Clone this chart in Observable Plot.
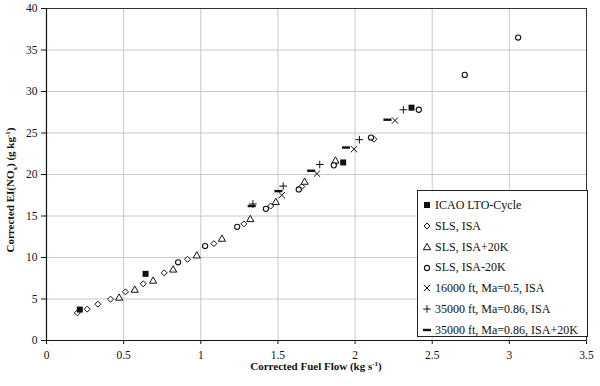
<!DOCTYPE html>
<html>
<head>
<meta charset="utf-8">
<script src="https://cdn.jsdelivr.net/npm/d3@7"></script>
<script src="https://cdn.jsdelivr.net/npm/@observablehq/plot@0.6"></script>
<style>
  html, body { margin: 0; padding: 0; background: #fff; }
  #wrap { position: relative; width: 600px; height: 386px; font-family: "Liberation Serif", serif; }
  #wrap svg text { font-family: "Liberation Serif", serif !important; }
  #legend { position: absolute; left: 417px; top: 190px; width: 171px; height: 147px; border: 1px solid #222; background: #fff; box-sizing: border-box; font-family: "Liberation Serif", serif; font-size: 12px; color: #111; }
  #legend .row { position: absolute; left: 4px; height: 14px; line-height: 14px; white-space: nowrap; }
  #legend svg { vertical-align: middle; margin-right: 3px; position: relative; top: -1px; }
</style>
</head>
<body>
<div id="wrap"></div>
<script>
// ---- data ----
const icaoX = [0.216, 0.642, 1.923, 2.366];
const icaoY = [3.73, 8.03, 21.45, 28.05];

const slsIsaX = [0.200, 0.264, 0.333, 0.415, 0.512, 0.627, 0.763, 0.914, 1.085, 1.279, 1.453, 1.655, 1.866, 2.122];
const slsIsaY = [3.33, 3.78, 4.37, 4.98, 5.86, 6.83, 8.15, 9.78, 11.67, 14.05, 16.2, 18.55, 21.3, 24.25];

const slsHotX = [0.471, 0.572, 0.691, 0.821, 0.974, 1.137, 1.321, 1.486, 1.673, 1.873];
const slsHotY = [5.18, 6.14, 7.23, 8.57, 10.27, 12.28, 14.65, 16.7, 19.15, 21.7];

const slsColdX = [0.853, 1.028, 1.236, 1.422, 1.635, 1.862, 2.103, 2.413, 2.711, 3.057];
const slsColdY = [9.42, 11.38, 13.69, 15.86, 18.2, 21.1, 24.45, 27.8, 32.0, 36.5];

const alt16X = [1.525, 1.753, 1.993, 2.259];
const alt16Y = [17.5, 20.1, 23.05, 26.5];

const alt35X = [1.338, 1.534, 1.771, 2.028, 2.313];
const alt35Y = [16.45, 18.6, 21.2, 24.2, 27.8];

const alt35hX = [1.330, 1.503, 1.715, 1.941, 2.210];
const alt35hY = [16.2, 18.0, 20.45, 23.25, 26.6];

const seriesNames = ["ICAO LTO-Cycle", "SLS, ISA", "SLS, ISA+20K", "SLS, ISA-20K",
  "16000 ft, Ma=0.5, ISA", "35000 ft, Ma=0.86, ISA", "35000 ft, Ma=0.86, ISA+20K"];

const xTicks = [0, 0.5, 1, 1.5, 2, 2.5, 3, 3.5];
const yTicks = [0, 5, 10, 15, 20, 25, 30, 35, 40];

// ---- symbols ----
const dashSymbol = { draw(ctx, size) { const w = 4, h = 1.2; ctx.moveTo(-w, -h); ctx.lineTo(w, -h); ctx.lineTo(w, h); ctx.lineTo(-w, h); ctx.closePath(); } };
const squareSymbol = { draw(ctx, size) { const s = 3; ctx.moveTo(-s, -s); ctx.lineTo(s, -s); ctx.lineTo(s, s); ctx.lineTo(-s, s); ctx.closePath(); } };
const diamondSymbol = { draw(ctx, size) { const s = 3; ctx.moveTo(0, -s); ctx.lineTo(s, 0); ctx.lineTo(0, s); ctx.lineTo(-s, 0); ctx.closePath(); } };
const triSymbol = { draw(ctx, size) { const s = 3.6; ctx.moveTo(0, -s); ctx.lineTo(s, s * 0.75); ctx.lineTo(-s, s * 0.75); ctx.closePath(); } };
const circSymbol = { draw(ctx, size) { ctx.moveTo(2.6, 0); ctx.arc(0, 0, 2.6, 0, 2 * Math.PI); } };
const timesSymbol = { draw(ctx, size) { const s = 3.2; ctx.moveTo(-s, -s); ctx.lineTo(s, s); ctx.moveTo(s, -s); ctx.lineTo(-s, s); } };
const plusSymbol = { draw(ctx, size) { const s = 3.8; ctx.moveTo(-s, 0); ctx.lineTo(s, 0); ctx.moveTo(0, -s); ctx.lineTo(0, s); } };

const styles = [
  { sym: squareSymbol, fill: "#111", stroke: "none", sw: 0 },
  { sym: diamondSymbol, fill: "white", stroke: "#111", sw: 1 },
  { sym: triSymbol, fill: "white", stroke: "#111", sw: 1 },
  { sym: circSymbol, fill: "white", stroke: "#111", sw: 1.1 },
  { sym: timesSymbol, fill: "none", stroke: "#111", sw: 1 },
  { sym: plusSymbol, fill: "none", stroke: "#111", sw: 1 },
  { sym: dashSymbol, fill: "#111", stroke: "none", sw: 0 }
];

const seriesXY = [[icaoX, icaoY], [slsIsaX, slsIsaY], [slsHotX, slsHotY], [slsColdX, slsColdY],
  [alt16X, alt16Y], [alt35X, alt35Y], [alt35hX, alt35hY]];

const toRows = (xs, ys) => xs.map((x, i) => ({ x, y: ys[i] }));

const drawOrder = [1, 2, 3, 4, 5, 6, 0];
const dotMarks = drawOrder.map(k => Plot.dot(toRows(...seriesXY[k]), {
  x: "x", y: "y", symbol: styles[k].sym, r: 3,
  fill: styles[k].fill, stroke: styles[k].stroke, strokeWidth: styles[k].sw
}));

const chart = Plot.plot({
  width: 600, height: 386,
  marginLeft: 46, marginRight: 14, marginTop: 8, marginBottom: 46,
  style: { fontFamily: "Liberation Serif", fontSize: "11.5px", color: "#111", background: "white" },
  x: { domain: [0, 3.5], ticks: xTicks, tickFormat: d => String(d), label: null, tickSize: 4, tickPadding: 6 },
  y: { domain: [0, 40], ticks: yTicks, tickFormat: d => String(d), label: null, tickSize: 5, tickPadding: 4 },
  marks: [
    Plot.gridX(xTicks, { stroke: "#c8c8c8", strokeOpacity: 1, strokeWidth: 1 }),
    Plot.gridY(yTicks, { stroke: "#c8c8c8", strokeOpacity: 1, strokeWidth: 1 }),
    Plot.frame({ stroke: "#333", strokeWidth: 1 }),
    Plot.ruleX([0], { stroke: "#111", strokeWidth: 1.2 }),
    Plot.ruleY([0], { stroke: "#111", strokeWidth: 1.2 }),
    ...dotMarks
  ]
});

const wrap = document.getElementById("wrap");
wrap.appendChild(chart);

const svg = d3.select(chart);
const xt = svg.append("text")
  .attr("x", 316).attr("y", 370)
  .attr("text-anchor", "middle")
  .attr("font-weight", "bold").attr("font-size", 11).attr("fill", "#111");
xt.append("tspan").text("Corrected Fuel Flow (kg s");
xt.append("tspan").attr("font-size", 7).attr("dy", -4).text("-1");
xt.append("tspan").attr("dy", 4).text(")");

const yt = svg.append("text")
  .attr("transform", "translate(14,190) rotate(-90)")
  .attr("text-anchor", "middle")
  .attr("font-weight", "bold").attr("font-size", 11).attr("fill", "#111");
yt.append("tspan").text("Corrected EI(NO");
yt.append("tspan").attr("font-size", 7).attr("dy", 3).text("x");
yt.append("tspan").attr("dy", -3).text(") (g kg");
yt.append("tspan").attr("font-size", 7).attr("dy", -4).text("-1");
yt.append("tspan").attr("dy", 4).text(")");

// legend
const legend = document.createElement("div");
legend.id = "legend";
wrap.appendChild(legend);
seriesNames.forEach((name, k) => {
  const row = document.createElement("div");
  row.className = "row";
  row.style.top = (7 + k * 20.8) + "px";
  const s = d3.create("svg").attr("width", 10).attr("height", 10);
  s.append("path")
    .attr("transform", "translate(5,5)")
    .attr("d", d3.symbol(styles[k].sym)())
    .attr("fill", styles[k].fill)
    .attr("stroke", styles[k].stroke)
    .attr("stroke-width", styles[k].sw);
  row.appendChild(s.node());
  row.appendChild(document.createTextNode(name));
  legend.appendChild(row);
});
</script>
</body>
</html>
